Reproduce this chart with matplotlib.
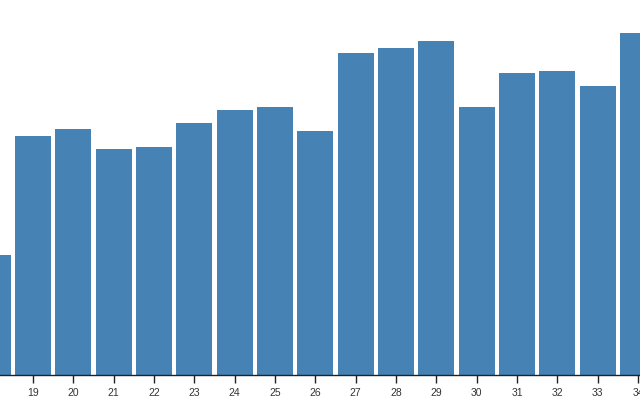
import matplotlib
matplotlib.use("Agg")
import matplotlib.pyplot as plt

days = list(range(18, 35))
values = [120, 239, 246, 226, 228, 252, 265, 268, 244, 322, 327, 334, 268, 302, 304, 289, 342]
tick_labels = [str(d) for d in days[1:]]

plt.rcParams['font.family'] = ['Liberation Sans', 'DejaVu Sans']

fig = plt.figure(figsize=(6.4, 4), dpi=100)
ax = fig.add_axes([0, 25 / 400, 1, 375 / 400])

ax.bar(days, values, width=0.9, color="steelblue")

ax.set_xlim(18.182, 34.05)
ax.set_ylim(0, 375)
ax.set_xticks(days[1:])
ax.set_xticklabels(tick_labels)
ax.tick_params(axis="x", length=6, width=1, color="#222222", labelsize=7.5,
               labelcolor="#333333", pad=3)
ax.set_yticks([])
for s in ["left", "top", "right"]:
    ax.spines[s].set_visible(False)
ax.spines["bottom"].set_color("#222222")
ax.spines["bottom"].set_linewidth(1)

fig.savefig("out.png", dpi=100)
